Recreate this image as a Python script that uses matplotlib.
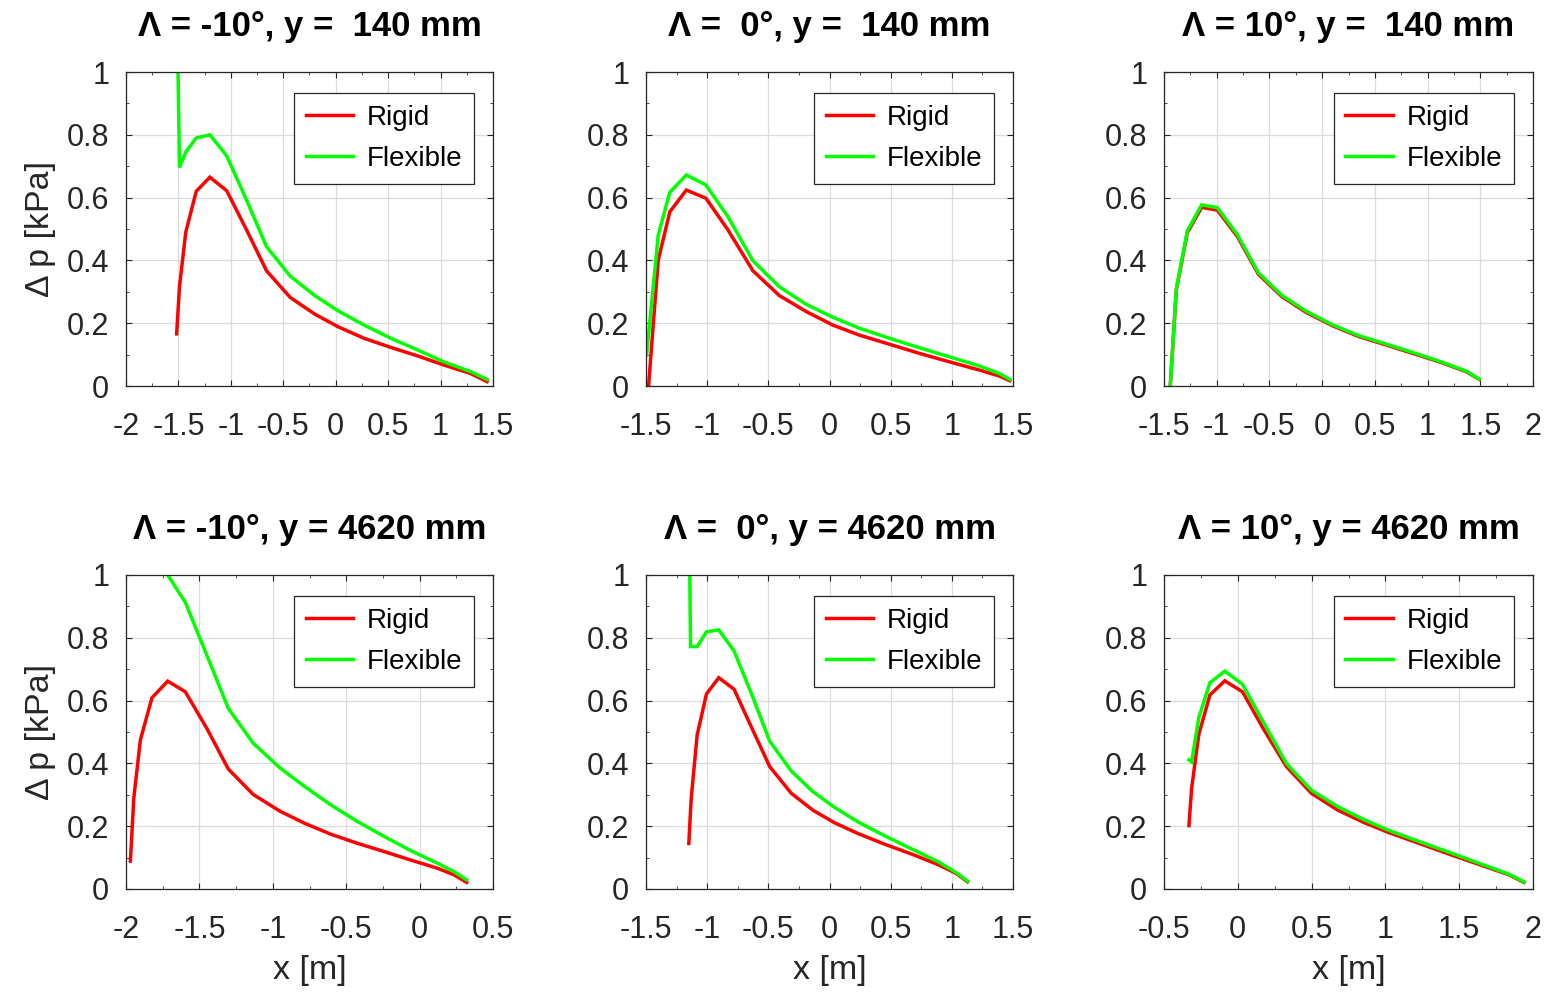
import numpy as np
import matplotlib
matplotlib.use("Agg")
import matplotlib.pyplot as plt
from matplotlib.ticker import FuncFormatter, MultipleLocator, AutoMinorLocator

plt.rcParams['font.family'] = ['Liberation Sans', 'DejaVu Sans']

# ---------------- data ----------------
titles = ["Λ = -10°, y =  140 mm", "Λ =  0°, y =  140 mm", "Λ = 10°, y =  140 mm",
          "Λ = -10°, y = 4620 mm", "Λ =  0°, y = 4620 mm", "Λ = 10°, y = 4620 mm"]
series_names = ["Rigid", "Flexible"]
x_label = "x [m]"
y_label = "Δ p [kPa]"

# panel 1: Λ=-10°, y=140
x_p1 = [-1.517, -1.49, -1.43, -1.33, -1.20, -1.04, -0.85, -0.66, -0.434, -0.20, 0.02, 0.27, 0.525, 0.78, 1.03, 1.285, 1.443]
rigid_p1 = [0.166, 0.316, 0.49, 0.62, 0.665, 0.622, 0.497, 0.367, 0.282, 0.229, 0.189, 0.152, 0.123, 0.096, 0.067, 0.040, 0.014]
flex_p1 = [1.30, 0.696, 0.745, 0.79, 0.80, 0.733, 0.592, 0.444, 0.350, 0.288, 0.240, 0.194, 0.152, 0.115, 0.077, 0.046, 0.021]

# panel 2: Λ=0°, y=140
x_p2 = [-1.495, -1.40, -1.305, -1.17, -1.01, -0.83, -0.626, -0.41, -0.19, 0.027, 0.245, 0.49, 0.734, 0.98, 1.223, 1.387, 1.474]
rigid_p2 = [-0.08, 0.401, 0.555, 0.624, 0.598, 0.497, 0.367, 0.288, 0.237, 0.194, 0.162, 0.133, 0.104, 0.077, 0.051, 0.032, 0.017]
flex_p2 = [0.099, 0.481, 0.617, 0.672, 0.640, 0.539, 0.399, 0.316, 0.260, 0.219, 0.184, 0.152, 0.122, 0.093, 0.064, 0.040, 0.021]

# panel 3: Λ=10°, y=140
x_p3 = [-1.45, -1.383, -1.279, -1.143, -0.994, -0.804, -0.605, -0.383, -0.155, 0.098, 0.351, 0.605, 0.858, 1.111, 1.365, 1.491]
rigid_p3 = [-0.05, 0.306, 0.488, 0.569, 0.560, 0.476, 0.356, 0.285, 0.235, 0.192, 0.157, 0.131, 0.104, 0.077, 0.046, 0.021]
flex_p3 = [-0.05, 0.310, 0.494, 0.577, 0.568, 0.482, 0.361, 0.289, 0.239, 0.195, 0.160, 0.134, 0.107, 0.079, 0.048, 0.022]

# panel 4: Λ=-10°, y=4620
x_p4 = [-1.97, -1.947, -1.902, -1.823, -1.716, -1.596, -1.45, -1.303, -1.133, -0.952, -0.782, -0.602, -0.42, -0.24, -0.059, 0.122, 0.235, 0.321]
rigid_p4 = [0.089, 0.289, 0.475, 0.609, 0.662, 0.628, 0.512, 0.382, 0.301, 0.248, 0.209, 0.174, 0.145, 0.119, 0.092, 0.066, 0.045, 0.021]
flex_p4 = [np.nan, np.nan, np.nan, 1.08, 1.0, 0.913, 0.745, 0.575, 0.464, 0.386, 0.326, 0.267, 0.214, 0.167, 0.122, 0.082, 0.055, 0.029]

# panel 5: Λ=0°, y=4620
x_p5 = [-1.15, -1.136, -1.128, -1.082, -1.006, -0.905, -0.78, -0.634, -0.489, -0.313, -0.136, 0.041, 0.231, 0.449, 0.68, 0.897, 1.033, 1.128]
rigid_p5 = [0.145, 0.25, 0.299, 0.49, 0.621, 0.673, 0.636, 0.512, 0.390, 0.305, 0.251, 0.211, 0.177, 0.143, 0.110, 0.076, 0.050, 0.023]
flex_p5 = [1.30, 0.772, 0.772, 0.772, 0.819, 0.825, 0.758, 0.618, 0.471, 0.376, 0.310, 0.260, 0.214, 0.170, 0.126, 0.085, 0.053, 0.025]

# panel 6: Λ=10°, y=4620
x_p6 = [-0.331, -0.313, -0.264, -0.189, -0.088, 0.032, 0.171, 0.329, 0.498, 0.678, 0.858, 1.027, 1.23, 1.432, 1.635, 1.838, 1.939]
rigid_p6 = [0.202, 0.320, 0.493, 0.618, 0.663, 0.628, 0.512, 0.390, 0.305, 0.251, 0.211, 0.179, 0.145, 0.111, 0.078, 0.045, 0.021]
flex_p6 = [0.411, 0.405, 0.546, 0.657, 0.694, 0.652, 0.533, 0.400, 0.315, 0.262, 0.220, 0.186, 0.151, 0.117, 0.082, 0.047, 0.023]

panel_x = [x_p1, x_p2, x_p3, x_p4, x_p5, x_p6]
panel_rigid = [rigid_p1, rigid_p2, rigid_p3, rigid_p4, rigid_p5, rigid_p6]
panel_flex = [flex_p1, flex_p2, flex_p3, flex_p4, flex_p5, flex_p6]
panel_xlim = [(-2, 1.5), (-1.5, 1.5), (-1.5, 2), (-2, 0.5), (-1.5, 1.5), (-0.5, 2)]
y_ticks = [0, 0.2, 0.4, 0.6, 0.8, 1]

# ---------------- layout ----------------
W, H = 1548, 992
fig = plt.figure(figsize=(W / 100, H / 100), dpi=100)
col_left = [126, 646, 1164]
col_w = [367, 367, 369]
row_top = [72, 575]
ax_h = 314

fs_tick = 22
fs_title = 25
fs_label = 24.5
fs_leg = 20

def fmt(v, pos):
    return "%g" % round(v, 6)

for i in range(6):
    r, c = divmod(i, 3)
    left = col_left[c] / W
    bottom = 1 - (row_top[r] + ax_h) / H
    ax = fig.add_axes([left, bottom, col_w[c] / W, ax_h / H])
    ax.plot(panel_x[i], panel_rigid[i], color=(1, 0, 0), lw=2.5, label=series_names[0], solid_joinstyle='miter')
    ax.plot(panel_x[i], panel_flex[i], color=(0, 1, 0), lw=2.5, label=series_names[1], solid_joinstyle='miter')
    ax.set_xlim(*panel_xlim[i])
    ax.set_ylim(0, 1)
    ax.xaxis.set_major_locator(MultipleLocator(0.5))
    ax.set_yticks(y_ticks)
    ax.xaxis.set_major_formatter(FuncFormatter(fmt))
    ax.yaxis.set_major_formatter(FuncFormatter(fmt))
    ax.xaxis.set_minor_locator(AutoMinorLocator(2))
    ax.yaxis.set_minor_locator(AutoMinorLocator(2))
    ax.grid(True, which='major', color='#dcdcdc', lw=0.9)
    ax.set_axisbelow(True)
    ax.tick_params(which='both', direction='in', top=True, right=True, colors='#262626')
    ax.tick_params(which='major', length=4.5, width=0.8)
    ax.tick_params(which='minor', length=2.5, width=0.6)
    ax.tick_params(axis='x', which='major', pad=19, labelsize=fs_tick, labelcolor='#262626')
    ax.tick_params(axis='y', which='major', pad=12, labelsize=fs_tick, labelcolor='#262626')
    for sp in ax.spines.values():
        sp.set_color('#262626')
        sp.set_linewidth(0.9)
    ax.set_title(titles[i], fontsize=fs_title, fontweight='bold', pad=26)
    if c == 0:
        ax.set_ylabel(y_label, fontsize=fs_label, labelpad=8, color='#262626')
    if r == 1:
        ax.set_xlabel(x_label, fontsize=fs_label, labelpad=7, color='#262626')
    leg = ax.legend(loc='upper right', bbox_to_anchor=(1 - 19 / 367, 1 - 21 / 314),
                    borderaxespad=0, fontsize=fs_leg, fancybox=False, framealpha=1,
                    edgecolor='#262626', handlelength=1.7, handletextpad=0.5,
                    labelspacing=0.55, borderpad=0.42)
    leg.get_frame().set_linewidth(0.9)

fig.savefig("out.png", dpi=100)
